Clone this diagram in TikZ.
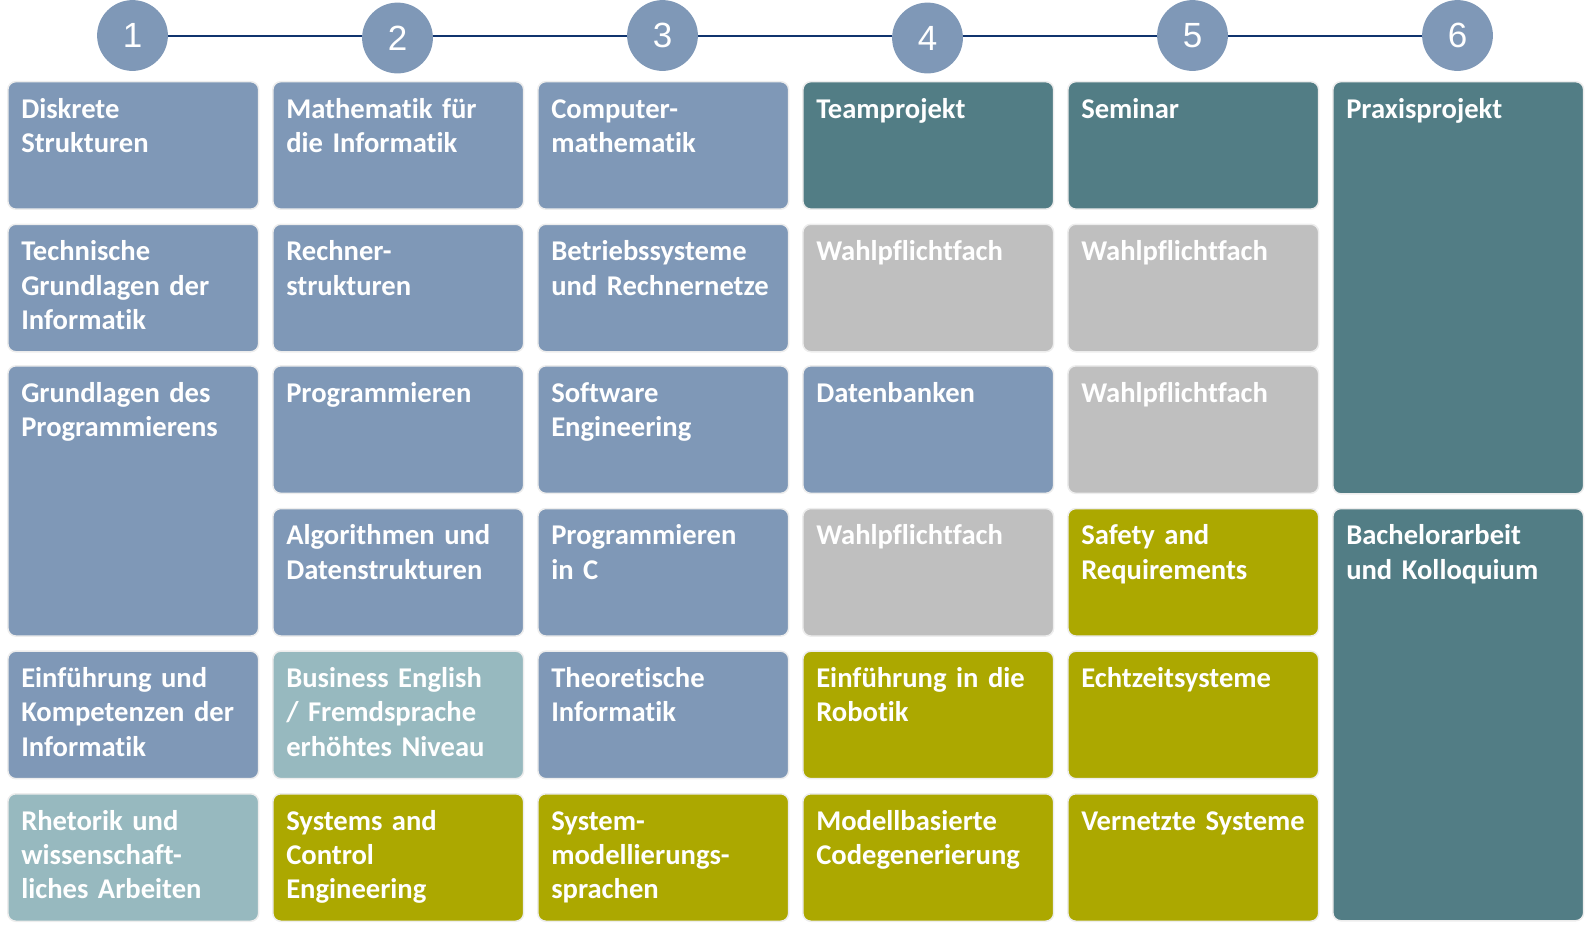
\documentclass[tikz,border=0pt]{standalone}
\usepackage{fontspec}
\setmainfont{Carlito}[Ligatures=NoCommon]
\newfontfamily\numfont{Liberation Sans}
\usepackage{tikz}
\usetikzlibrary{positioning}
\definecolor{blaugrau}{RGB}{127,152,183}
\definecolor{petrol}{RGB}{82,125,133}
\definecolor{hellpetrol}{RGB}{151,185,191}
\definecolor{wpfgrau}{RGB}{191,191,191}
\definecolor{oliv}{RGB}{172,168,0}
\definecolor{linienblau}{RGB}{16,52,110}

\begin{document}
\begin{tikzpicture}[x=1pt, y=-1pt,
    sem/.style={circle, fill=blaugrau, minimum size=70.8pt, inner sep=0pt, text=white,
        font=\numfont\fontsize{35}{40}\selectfont},
    modul/.style={anchor=north west, inner xsep=13.4pt, inner ysep=0pt, text width=224pt,
        text height=36.4pt, text depth=91.1pt, rounded corners=8pt, draw=black!7,
        line width=1.5pt, text=white, align=left,
        font=\bfseries\fontsize{28.6}{34.4}\selectfont},
    lang2/.style={text depth=233.8pt},
    lang3/.style={text depth=375.8pt}]
    \useasboundingbox (0,0) rectangle (1586,924);
    \foreach \i/\x/\y in {1/132.5/35.5, 2/397.5/38, 3/662.5/35.5, 4/927.5/38, 5/1192.5/35.5, 6/1457.5/35.5}
        \node[sem] (s\i) at (\x,\y) {\i};
    \foreach \i/\j in {1/2, 2/3, 3/4, 4/5, 5/6}
        \draw[linienblau, line width=2pt] (s1.east -| s\i.east) -- (s1.east -| s\j.west);

    \node[modul, fill=blaugrau] (dis) at (7.1,80.9) {Diskrete\\Strukturen};
    \node[modul, fill=blaugrau] (tgi) at (7.1,223.5) {Technische\\Grundlagen der\\Informatik};
    \node[modul, lang2, fill=blaugrau] (gdp) at (7.1,365.1) {Grundlagen des\\Programmierens};
    \node[modul, fill=blaugrau] (eki) at (7.1,650.4) {Einführung und\\Kompetenzen der\\Informatik};
    \node[modul, fill=hellpetrol] (rwa) at (7.1,793.0) {Rhetorik und\\wissenschaft-\\liches Arbeiten};

    \node[modul, fill=blaugrau] (mfi) at (272.1,80.9) {Mathematik für\\die Informatik};
    \node[modul, fill=blaugrau] (rs) at (272.1,223.5) {Rechner-\\strukturen};
    \node[modul, fill=blaugrau] (prog) at (272.1,365.1) {Programmieren};
    \node[modul, fill=blaugrau] (aud) at (272.1,507.8) {Algorithmen und\\Datenstrukturen};
    \node[modul, fill=hellpetrol] (be) at (272.1,650.4) {Business English\\/ Fremdsprache\\erhöhtes Niveau};
    \node[modul, fill=oliv] (sce) at (272.1,793.0) {Systems and\\Control\\Engineering};

    \node[modul, fill=blaugrau] (cm) at (537.1,80.9) {Computer-\\mathematik};
    \node[modul, fill=blaugrau] (brn) at (537.1,223.5) {Betriebssysteme\\und Rechnernetze};
    \node[modul, fill=blaugrau] (se) at (537.1,365.1) {Software\\Engineering};
    \node[modul, fill=blaugrau] (pic) at (537.1,507.8) {Programmieren\\in C};
    \node[modul, fill=blaugrau] (ti) at (537.1,650.4) {Theoretische\\Informatik};
    \node[modul, fill=oliv] (sms) at (537.1,793.0) {System-\\modellierungs-\\sprachen};

    \node[modul, fill=petrol] (tp) at (802.1,80.9) {Teamprojekt};
    \node[modul, fill=wpfgrau] (wpfa) at (802.1,223.5) {Wahlpflichtfach};
    \node[modul, fill=blaugrau] (db) at (802.1,365.1) {Datenbanken};
    \node[modul, fill=wpfgrau] (wpfb) at (802.1,507.8) {Wahlpflichtfach};
    \node[modul, fill=oliv] (rob) at (802.1,650.4) {Einführung in die\\Robotik};
    \node[modul, fill=oliv] (mcg) at (802.1,793.0) {Modellbasierte\\Codegenerierung};

    \node[modul, fill=petrol] (sem) at (1067.1,80.9) {Seminar};
    \node[modul, fill=wpfgrau] (wpfc) at (1067.1,223.5) {Wahlpflichtfach};
    \node[modul, fill=wpfgrau] (wpfd) at (1067.1,365.1) {Wahlpflichtfach};
    \node[modul, fill=oliv] (sar) at (1067.1,507.8) {Safety and\\Requirements};
    \node[modul, fill=oliv] (ezs) at (1067.1,650.4) {Echtzeitsysteme};
    \node[modul, fill=oliv] (vs) at (1067.1,793.0) {Vernetzte Systeme};

    \node[modul, lang3, fill=petrol] (pp) at (1332.1,80.9) {Praxisprojekt};
    \node[modul, lang3, fill=petrol] (ba) at (1332.1,507.8) {Bachelorarbeit\\und Kolloquium};
\end{tikzpicture}
\end{document}
